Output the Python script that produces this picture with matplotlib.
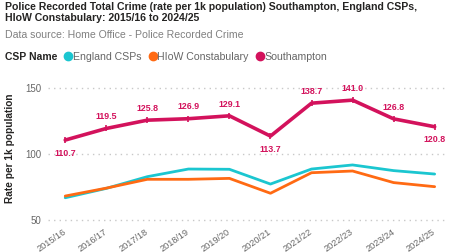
import matplotlib
matplotlib.use("Agg")
import matplotlib.pyplot as plt
from matplotlib.lines import Line2D
import matplotlib.transforms as mtransforms

years = ["2015/16", "2016/17", "2017/18", "2018/19", "2019/20",
         "2020/21", "2021/22", "2022/23", "2023/24", "2024/25"]
england = [66.9, 74.0, 82.9, 88.7, 88.5, 77.3, 88.7, 91.8, 87.5, 84.9]
hiow = [68.2, 74.2, 80.9, 80.9, 81.6, 70.3, 85.9, 87.2, 78.4, 75.3]
southampton = [110.7, 119.5, 125.8, 126.9, 129.1, 113.7, 138.7, 141.0, 126.8, 120.8]
label_below = [True, False, False, False, False, True, False, False, False, True]

C_ENG = "#1BC6D0"
C_HIOW = "#FF6A13"
C_SOU = "#D3125C"

plt.rcParams["font.family"] = ["Liberation Sans", "DejaVu Sans"]

fig = plt.figure(figsize=(4.49, 2.52), dpi=100)
ax = fig.add_axes([0.1069, 0.1008, 0.884, 0.575])

x = list(range(len(years)))
ax.plot(x, england, color=C_ENG, lw=2.0, solid_capstyle="round", zorder=3)
ax.plot(x, hiow, color=C_HIOW, lw=2.0, solid_capstyle="round", zorder=3)
ax.plot(x, southampton, color=C_SOU, lw=2.6, marker="|", ms=4, mew=1.2,
        solid_capstyle="round", zorder=4)

for xi, v, below in zip(x, southampton, label_below):
    off = -9.5 if below else 8.5
    ax.annotate(f"{v:.1f}", (xi, v), xytext=(0, off), textcoords="offset points",
                ha="center", va="center", color=C_SOU, fontsize=6.4,
                fontweight="bold")

ax.set_xlim(-0.42, 9.25)
ax.set_ylim(45, 155)
ax.set_yticks([50, 100, 150])
ax.set_xticks(x)
ax.set_xticklabels(years, rotation=35, ha="right", va="center",
                   rotation_mode="anchor", fontsize=6.6, color="#666666")
shift = mtransforms.ScaledTranslation(-5 / 100, 0, fig.dpi_scale_trans)
for lbl in ax.get_xticklabels():
    lbl.set_transform(lbl.get_transform() + shift)
ax.tick_params(axis="y", labelsize=7.0, labelcolor="#666666", length=0, pad=5)
ax.tick_params(axis="x", length=0, pad=3)
ax.grid(axis="y", color="#C8C8C8", linestyle=(0, (1, 3)), lw=1.0)
for s in ax.spines.values():
    s.set_visible(False)
ax.set_ylabel("Rate per 1k population", fontsize=7.3, fontweight="bold",
              color="#252423")
ax.yaxis.set_label_coords(-0.082, 0.54)

fig.text(0.011, 0.972, "Police Recorded Total Crime (rate per 1k population) Southampton, England CSPs,",
         fontsize=7.6, fontweight="bold", color="#252423", va="center", ha="left")
fig.text(0.011, 0.929, "HIoW Constabulary: 2015/16 to 2024/25",
         fontsize=7.6, fontweight="bold", color="#252423", va="center", ha="left")
fig.text(0.011, 0.861, "Data source: Home Office - Police Recorded Crime",
         fontsize=7.6, color="#808080", va="center", ha="left")
fig.text(0.011, 0.774, "CSP Name", fontsize=7.5, fontweight="bold",
         color="#252423", va="center", ha="left")

handles = [Line2D([], [], ls="", marker="o", ms=6, color=c) for c in (C_ENG, C_HIOW, C_SOU)]
fig.legend(handles, ["England CSPs", "HIoW Constabulary", "Southampton"],
           loc="center left", bbox_to_anchor=(0.145, 0.774), ncol=3, frameon=False,
           fontsize=7.6, labelcolor="#666666", handlelength=0.6, handletextpad=0.15,
           columnspacing=0.75, borderpad=0, borderaxespad=0)

fig.savefig("out.png", dpi=100)
